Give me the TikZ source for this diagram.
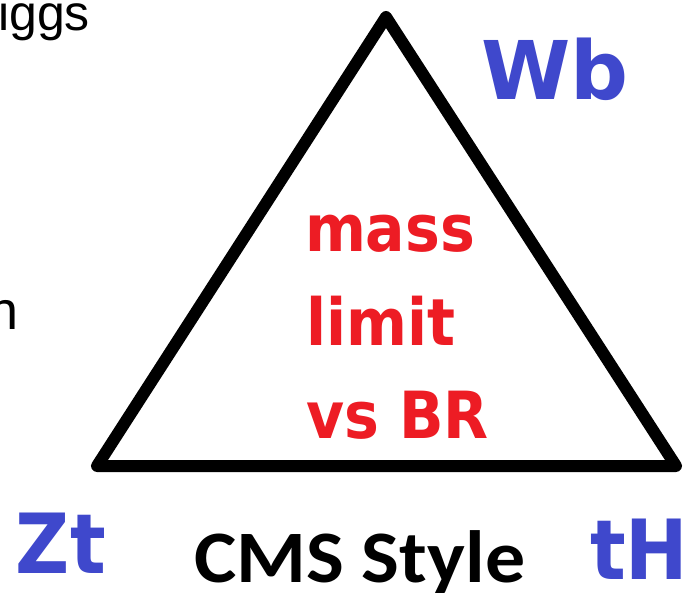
\documentclass[tikz,border=0pt]{standalone}
\usepackage{fontspec}
\setmainfont{Liberation Sans}
\newfontfamily\labelfont{DejaVu Sans Condensed}[BoldFont={DejaVu Sans Condensed Bold}]
\newfontfamily\widefont{DejaVu Sans}[BoldFont={DejaVu Sans Bold}]
\newfontfamily\capfont{Carlito}[FakeStretch=1.08]
\definecolor{paintred}{HTML}{ED1C24}
\definecolor{paintblue}{HTML}{3F48CC}
\begin{document}
\begin{tikzpicture}[x=1pt,y=-1pt,
  txt/.style={inner sep=0pt,outer sep=0pt,anchor=base west},
  corner/.style={txt,text=paintblue,font=\labelfont\bfseries\fontsize{83}{83}\selectfont},
  inside/.style={txt,text=paintred,font=\labelfont\bfseries\fontsize{65}{65}\selectfont},
  plain/.style={inner sep=0pt,outer sep=0pt,anchor=base east,font=\fontsize{50}{50}\selectfont}]
  \useasboundingbox (0,0) rectangle (690,593);
  \fill[white] (0,0) rectangle (690,593);

  % cut-off words at the left margin
  \node[plain] (higgs) at (90,31) {iggs};
  \node[plain,font=\fontsize{54}{54}\selectfont] (side) at (19,330) {n};

  % triangle
  \coordinate (apex) at (386,17);
  \coordinate (left) at (97,466);
  \coordinate (right) at (676,466);
  \draw[line width=12pt,line join=round] (apex) -- (right) -- (left) -- cycle;

  % corner labels
  \node[corner,font=\widefont\bfseries\fontsize{81}{81}\selectfont] (wb) at (481,100) {Wb};
  \node[corner] (zt) at (16,573) {Zt};
  \node[corner] (th) at (590,579) {tH};

  % centre text
  \node[inside] (mass) at (305,252) {mass};
  \node[inside] (limit) at (306,345) {limit};
  \node[inside] (vsbr) at (306,438) {vs BR};

  % caption
  \node[txt,font=\capfont\bfseries\fontsize{74}{74}\selectfont] (style) at (194,582) {CMS Style};
\end{tikzpicture}
\end{document}
